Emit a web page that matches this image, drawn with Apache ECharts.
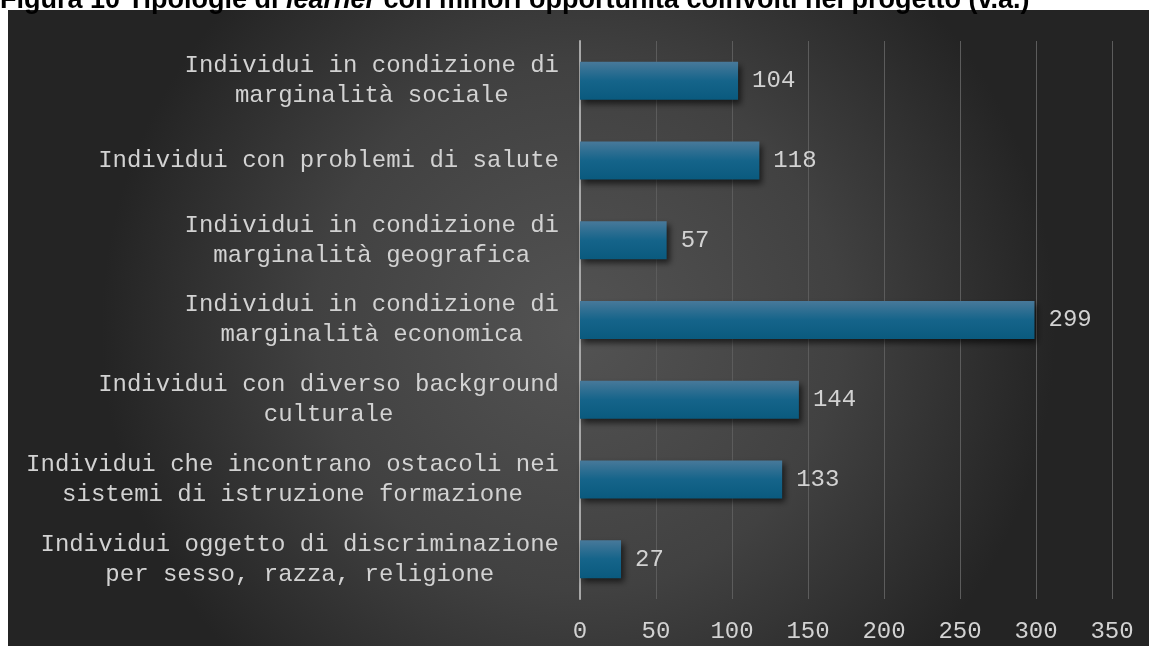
<!DOCTYPE html>
<html>
<head>
    <meta charset="utf-8">
    <script src="https://cdn.jsdelivr.net/npm/echarts@6/dist/echarts.min.js"></script>
    <style>
        *{
            margin:0;
            padding:0;
        }
        body{ background:#fff; }
    </style>
</head>
<body>
    <div id="main" style="width: 1149px;height:646px;"></div>
    <script type="text/javascript">

    // categories, top to bottom as in the figure
    var categories = [
        'Individui in condizione di\nmarginalità sociale',
        'Individui con problemi di salute',
        'Individui in condizione di\nmarginalità geografica',
        'Individui in condizione di\nmarginalità economica',
        'Individui con diverso background\nculturale',
        'Individui che incontrano ostacoli nei\nsistemi di istruzione formazione',
        'Individui oggetto di discriminazione\nper sesso, razza, religione'
    ];
    var values = [104, 118, 57, 299, 144, 133, 27];
    var xTicks = [0, 50, 100, 150, 200, 250, 300, 350];

    var monoFont = '"Liberation Mono", "Courier New", monospace';
    var titleFont = '"Liberation Sans", Arial, sans-serif';
    var textColor = '#d2d2d2';

    var myChart = echarts.init(document.getElementById('main'));

    myChart.setOption({
        animation: false,
        title: {
            text: '{b|Figura 10 Tipologie di }{i|learner}{b| con minori opportunità coinvolti nel progetto (v.a.)}',
            left: 0,
            top: -13,
            padding: 0,
            textStyle: {
                rich: {
                    b: { fontFamily: titleFont, fontWeight: 'bold', fontSize: 27, lineHeight: 27, color: '#000' },
                    i: { fontFamily: titleFont, fontWeight: 'bold', fontStyle: 'italic', fontSize: 27, lineHeight: 27, color: '#000' }
                }
            }
        },
        graphic: [{
            type: 'rect',
            z: -10,
            silent: true,
            shape: { x: 8, y: 10, width: 1141, height: 636 },
            style: {
                fill: {
                    type: 'radial',
                    x: 0.5, y: 0.5, r: 0.75,
                    colorStops: [
                        { offset: 0, color: '#535353' },
                        { offset: 0.55, color: '#414141' },
                        { offset: 1, color: '#242424' }
                    ]
                }
            }
        }],
        grid: {
            left: 580,
            right: 37,
            top: 41,
            bottom: 47
        },
        xAxis: {
            type: 'value',
            min: 0,
            max: 350,
            interval: 50,
            axisLine: { show: false },
            axisTick: { show: false },
            splitLine: { lineStyle: { color: '#5c5c5c', width: 1 } },
            axisLabel: {
                color: textColor,
                fontFamily: monoFont,
                fontSize: 24,
                margin: 21,
                formatter: function (v) {
                    return xTicks.indexOf(v) >= 0 ? String(v) : '';
                }
            }
        },
        yAxis: {
            type: 'category',
            inverse: true,
            data: categories,
            axisLine: { lineStyle: { color: '#a8a8a8', width: 2 } },
            axisTick: { show: false },
            axisLabel: {
                margin: 21,
                color: textColor,
                fontFamily: monoFont,
                fontSize: 24,
                lineHeight: 30,
                formatter: function (v) {
                    return v.split('\n').map(function (l) { return '{c|' + l + '}'; }).join('\n');
                },
                rich: {
                    c: {
                        align: 'center',
                        color: textColor,
                        fontFamily: monoFont,
                        fontSize: 24,
                        lineHeight: 30
                    }
                }
            }
        },
        series: [{
            type: 'bar',
            data: values,
            barWidth: 38,
            itemStyle: {
                color: {
                    type: 'linear',
                    x: 0, y: 0, x2: 0, y2: 1,
                    colorStops: [
                        { offset: 0, color: '#48799a' },
                        { offset: 0.5, color: '#15648a' },
                        { offset: 1, color: '#0a5a7e' }
                    ]
                },
                shadowColor: 'rgba(0,0,0,0.6)',
                shadowBlur: 6,
                shadowOffsetX: 3,
                shadowOffsetY: 4
            },
            label: {
                show: true,
                position: 'right',
                distance: 14,
                color: textColor,
                fontFamily: monoFont,
                fontSize: 24
            }
        }]
    });
</script>
</body>
</html>
